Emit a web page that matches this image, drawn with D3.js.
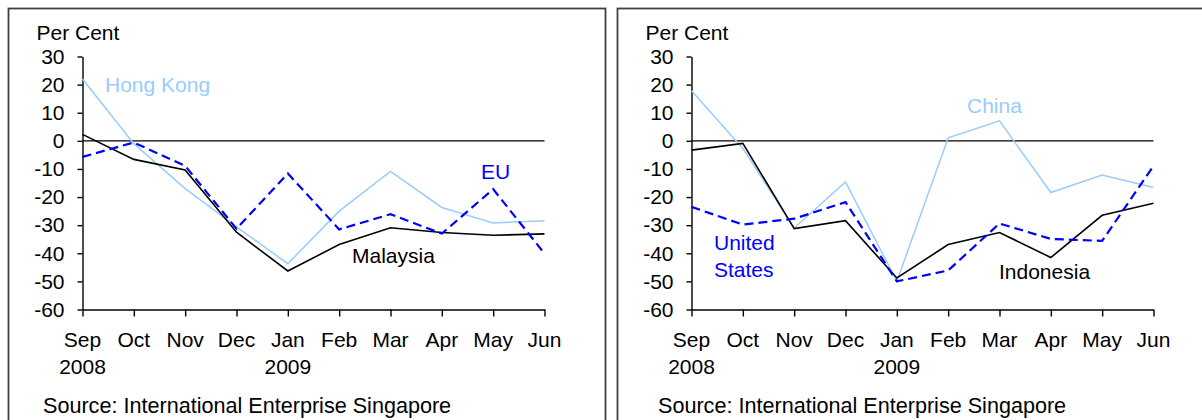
<!DOCTYPE html>
<html>
<head>
<meta charset="utf-8">
<script src="https://cdn.jsdelivr.net/npm/d3@7"></script>
<style>
  body { margin: 0; background: #fff; }
  svg { font-family: "Liberation Sans", Arial, sans-serif; }
</style>
</head>
<body>
<div id="chart"></div>
<script>
// categories and tick labels
var months = ["Sep", "Oct", "Nov", "Dec", "Jan", "Feb", "Mar", "Apr", "May", "Jun"];
var yearLabels = [{ month: "Sep", text: "2008" }, { month: "Jan", text: "2009" }];
var yTicks = [30, 20, 10, 0, -10, -20, -30, -40, -50, -60];

// left panel series
var hongKong = [22, -1, -17, -30.6, -43.7, -25, -10.9, -23.7, -29.2, -28.4];
var malaysia = [2.3, -6.6, -10.4, -32.5, -46.3, -36.9, -30.9, -32.6, -33.6, -33.1];
var eu = [-5.7, -0.6, -8.9, -31.3, -11.6, -31.5, -26.1, -33, -17.2, -40.1];

// right panel series
var china = [17.8, -2.7, -31, -14.6, -50, 1.1, 7.1, -18.4, -12.2, -16.6];
var indonesia = [-3.3, -0.9, -31.2, -28.4, -48.8, -36.9, -32.6, -41.5, -26.5, -22.2];
var unitedStates = [-23.5, -29.8, -27.7, -21.8, -50, -46.1, -29.4, -34.9, -35.6, -8.9];

var source = "Source: International Enterprise Singapore";

var W = 1202, H = 420;
var fontSize = 21;

var svg = d3.select("#chart")
      .append("svg")
      .attr("width", W)
      .attr("height", H);

function drawPanel(offsetX, sourceX, series, labels) {
      var g = svg.append("g")
            .attr("transform", "translate(" + offsetX + ",0)");

      // panel frame (runs off the bottom of the picture)
      g.append("rect")
            .attr("x", 8.5)
            .attr("y", 8.5)
            .attr("width", 597)
            .attr("height", 440)
            .attr("fill", "none")
            .attr("stroke", "#404040")
            .attr("stroke-width", 1.8);

      var xScale = d3.scalePoint()
            .domain(months)
            .range([82.5, 544.5]);

      var yScale = d3.scaleLinear()
            .domain([-60, 30])
            .range([309.5, 56.5]);

      // y axis
      var yAxis = g.append("g")
            .attr("transform", "translate(82.5,0)")
            .call(d3.axisLeft(yScale).tickValues(yTicks).tickSize(5).tickPadding(13).tickSizeOuter(0));
      yAxis.select(".domain").attr("stroke", "#000").attr("stroke-width", 1.4);
      yAxis.selectAll("line").attr("stroke", "#000").attr("stroke-width", 1.4);
      yAxis.selectAll("text")
            .attr("font-size", fontSize)
            .attr("font-family", "Liberation Sans, Arial, sans-serif")
            .attr("fill", "#000")
            .text(function (d) { return d; });

      // x axis at the bottom
      var xAxis = g.append("g")
            .attr("transform", "translate(0,309.5)")
            .call(d3.axisBottom(xScale).tickSize(7).tickSizeOuter(0).tickFormat(""));
      xAxis.select(".domain").attr("stroke", "#000").attr("stroke-width", 1.4);
      xAxis.selectAll("line").attr("stroke", "#000").attr("stroke-width", 1.4);

      g.selectAll(".month")
            .data(months)
            .enter()
            .append("text")
            .attr("x", function (d) { return xScale(d); })
            .attr("y", 340)
            .attr("dy", "0.35em")
            .attr("text-anchor", "middle")
            .attr("font-size", fontSize)
            .text(function (d) { return d; });

      g.selectAll(".year")
            .data(yearLabels)
            .enter()
            .append("text")
            .attr("x", function (d) { return xScale(d.month); })
            .attr("y", 367)
            .attr("dy", "0.35em")
            .attr("text-anchor", "middle")
            .attr("font-size", fontSize)
            .text(function (d) { return d.text; });

      // zero line
      g.append("line")
            .attr("x1", xScale(months[0]))
            .attr("x2", xScale(months[months.length - 1]))
            .attr("y1", yScale(0))
            .attr("y2", yScale(0))
            .attr("stroke", "#000")
            .attr("stroke-width", 1.2);

      g.append("text")
            .attr("x", 36.5)
            .attr("y", 33)
            .attr("dy", "0.35em")
            .attr("font-size", fontSize)
            .text("Per Cent");

      g.append("text")
            .attr("x", sourceX)
            .attr("y", 405)
            .attr("dy", "0.35em")
            .attr("font-size", 21.6)
            .text(source);

      var line = d3.line()
            .x(function (d, i) { return xScale(months[i]); })
            .y(function (d) { return yScale(d); });

      series.forEach(function (s) {
            g.append("path")
                  .datum(s.values)
                  .attr("d", line)
                  .attr("fill", "none")
                  .attr("stroke", s.color)
                  .attr("stroke-width", s.width)
                  .attr("stroke-dasharray", s.dash || null);
      });

      labels.forEach(function (l) {
            var t = g.append("text")
                  .attr("x", l.x)
                  .attr("y", l.y)
                  .attr("font-size", fontSize)
                  .attr("fill", l.color);
            l.lines.forEach(function (s, i) {
                  t.append("tspan")
                        .attr("x", l.x)
                        .attr("dy", i === 0 ? "0.35em" : "1.27em")
                        .text(s);
            });
      });
}

drawPanel(0, 43, [
      { values: hongKong, color: "#99ccff", width: 1.5 },
      { values: malaysia, color: "#000000", width: 1.6 },
      { values: eu, color: "#0000ff", width: 2.2, dash: "9,5" }
], [
      { lines: ["Hong Kong"], x: 105, y: 85, color: "#99ccff" },
      { lines: ["EU"], x: 481, y: 172, color: "#0000ff" },
      { lines: ["Malaysia"], x: 352, y: 256, color: "#000000" }
]);

drawPanel(609, 49, [
      { values: china, color: "#99ccff", width: 1.5 },
      { values: indonesia, color: "#000000", width: 1.6 },
      { values: unitedStates, color: "#0000ff", width: 2.2, dash: "9,5" }
], [
      { lines: ["China"], x: 358, y: 106, color: "#99ccff" },
      { lines: ["United", "States"], x: 105, y: 243, color: "#0000ff" },
      { lines: ["Indonesia"], x: 390, y: 272, color: "#000000" }
]);
</script>
</body>
</html>
